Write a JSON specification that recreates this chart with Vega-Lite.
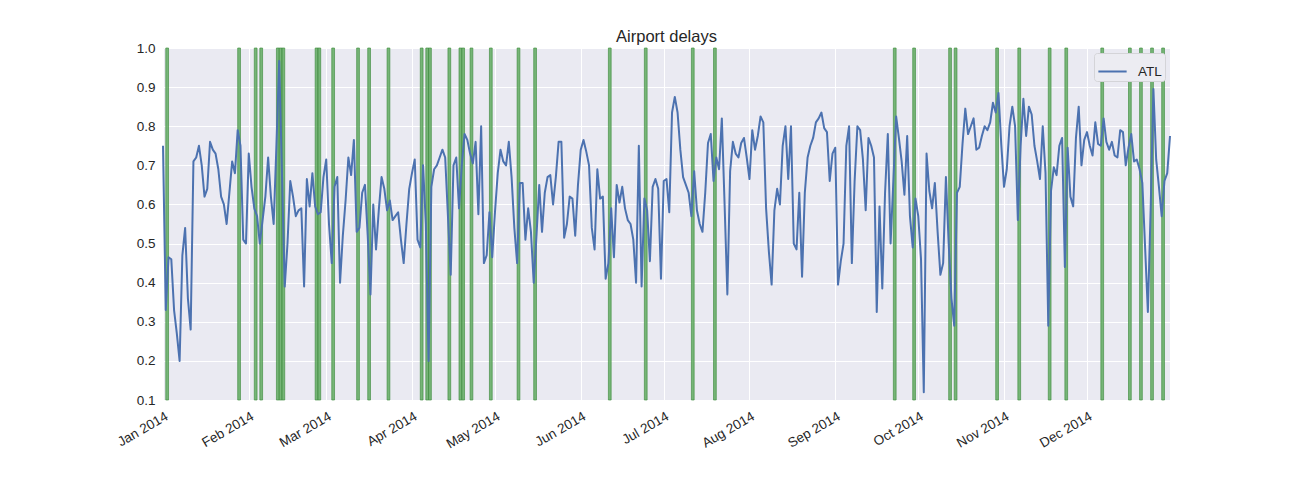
{
"$schema": "https://vega.github.io/schema/vega-lite/v6.json",
"width": 1007, "height": 352,
"autosize": {"type": "none"},
"padding": {"left": 163, "top": 48, "right": 130, "bottom": 100},
"background": "white",
"title": {"text": "Airport delays", "fontSize": 16.5, "fontWeight": "normal", "font": "Liberation Sans", "color": "#262626", "offset": -4, "frame": "group"},
"datasets": {
"spans": [
{"start":"2014-01-02","end":"2014-01-03"},{"start":"2014-01-28","end":"2014-01-29"},{"start":"2014-02-03","end":"2014-02-04"},{"start":"2014-02-05","end":"2014-02-06"},
{"start":"2014-02-11","end":"2014-02-12"},{"start":"2014-02-12","end":"2014-02-13"},{"start":"2014-02-13","end":"2014-02-14"},{"start":"2014-02-25","end":"2014-02-26"},
{"start":"2014-02-26","end":"2014-02-27"},{"start":"2014-03-03","end":"2014-03-04"},{"start":"2014-03-12","end":"2014-03-13"},{"start":"2014-03-16","end":"2014-03-17"},
{"start":"2014-03-23","end":"2014-03-24"},{"start":"2014-04-04","end":"2014-04-05"},{"start":"2014-04-06","end":"2014-04-07"},{"start":"2014-04-07","end":"2014-04-08"},
{"start":"2014-04-14","end":"2014-04-15"},{"start":"2014-04-18","end":"2014-04-19"},{"start":"2014-04-19","end":"2014-04-20"},{"start":"2014-04-22","end":"2014-04-23"},
{"start":"2014-04-29","end":"2014-04-30"},{"start":"2014-05-09","end":"2014-05-10"},{"start":"2014-05-15","end":"2014-05-16"},{"start":"2014-06-11","end":"2014-06-12"},
{"start":"2014-06-24","end":"2014-06-25"},{"start":"2014-07-11","end":"2014-07-12"},{"start":"2014-07-19","end":"2014-07-20"},{"start":"2014-09-22","end":"2014-09-23"},
{"start":"2014-09-29","end":"2014-09-30"},{"start":"2014-10-12","end":"2014-10-13"},{"start":"2014-10-14","end":"2014-10-15"},{"start":"2014-10-29","end":"2014-10-30"},
{"start":"2014-11-06","end":"2014-11-07"},{"start":"2014-11-17","end":"2014-11-18"},{"start":"2014-11-23","end":"2014-11-24"},{"start":"2014-12-06","end":"2014-12-07"},
{"start":"2014-12-16","end":"2014-12-17"},{"start":"2014-12-20","end":"2014-12-21"},{"start":"2014-12-24","end":"2014-12-25"},{"start":"2014-12-28","end":"2014-12-29"}
],
"delays": [
{"date":"2014-01-01","delay":0.75},{"date":"2014-01-02","delay":0.33},{"date":"2014-01-03","delay":0.465},{"date":"2014-01-04","delay":0.46},{"date":"2014-01-05","delay":0.33},{"date":"2014-01-06","delay":0.27},{"date":"2014-01-07","delay":0.20},{"date":"2014-01-08","delay":0.47},{"date":"2014-01-09","delay":0.54},{"date":"2014-01-10","delay":0.36},{"date":"2014-01-11","delay":0.28},{"date":"2014-01-12","delay":0.71},{"date":"2014-01-13","delay":0.72},{"date":"2014-01-14","delay":0.75},{"date":"2014-01-15","delay":0.70},{"date":"2014-01-16","delay":0.62},{"date":"2014-01-17","delay":0.64},{"date":"2014-01-18","delay":0.76},{"date":"2014-01-19","delay":0.74},{"date":"2014-01-20","delay":0.73},{"date":"2014-01-21","delay":0.69},{"date":"2014-01-22","delay":0.62},{"date":"2014-01-23","delay":0.60},{"date":"2014-01-24","delay":0.55},{"date":"2014-01-25","delay":0.63},{"date":"2014-01-26","delay":0.71},{"date":"2014-01-27","delay":0.68},{"date":"2014-01-28","delay":0.79},{"date":"2014-01-29","delay":0.75},{"date":"2014-01-30","delay":0.51},{"date":"2014-01-31","delay":0.50},
{"date":"2014-02-01","delay":0.73},{"date":"2014-02-02","delay":0.645},{"date":"2014-02-03","delay":0.59},{"date":"2014-02-04","delay":0.57},{"date":"2014-02-05","delay":0.50},{"date":"2014-02-06","delay":0.56},{"date":"2014-02-07","delay":0.62},{"date":"2014-02-08","delay":0.72},{"date":"2014-02-09","delay":0.62},{"date":"2014-02-10","delay":0.55},{"date":"2014-02-11","delay":0.75},{"date":"2014-02-12","delay":0.967},{"date":"2014-02-13","delay":0.68},{"date":"2014-02-14","delay":0.39},{"date":"2014-02-15","delay":0.50},{"date":"2014-02-16","delay":0.66},{"date":"2014-02-17","delay":0.62},{"date":"2014-02-18","delay":0.57},{"date":"2014-02-19","delay":0.585},{"date":"2014-02-20","delay":0.59},{"date":"2014-02-21","delay":0.39},{"date":"2014-02-22","delay":0.665},{"date":"2014-02-23","delay":0.595},{"date":"2014-02-24","delay":0.68},{"date":"2014-02-25","delay":0.595},{"date":"2014-02-26","delay":0.575},{"date":"2014-02-27","delay":0.58},{"date":"2014-02-28","delay":0.67},
{"date":"2014-03-01","delay":0.715},{"date":"2014-03-02","delay":0.55},{"date":"2014-03-03","delay":0.45},{"date":"2014-03-04","delay":0.645},{"date":"2014-03-05","delay":0.67},{"date":"2014-03-06","delay":0.40},{"date":"2014-03-07","delay":0.52},{"date":"2014-03-08","delay":0.61},{"date":"2014-03-09","delay":0.72},{"date":"2014-03-10","delay":0.675},{"date":"2014-03-11","delay":0.765},{"date":"2014-03-12","delay":0.53},{"date":"2014-03-13","delay":0.54},{"date":"2014-03-14","delay":0.63},{"date":"2014-03-15","delay":0.65},{"date":"2014-03-16","delay":0.52},{"date":"2014-03-17","delay":0.37},{"date":"2014-03-18","delay":0.60},{"date":"2014-03-19","delay":0.485},{"date":"2014-03-20","delay":0.585},{"date":"2014-03-21","delay":0.67},{"date":"2014-03-22","delay":0.64},{"date":"2014-03-23","delay":0.585},{"date":"2014-03-24","delay":0.61},{"date":"2014-03-25","delay":0.56},{"date":"2014-03-26","delay":0.57},{"date":"2014-03-27","delay":0.58},{"date":"2014-03-28","delay":0.51},{"date":"2014-03-29","delay":0.45},{"date":"2014-03-30","delay":0.55},{"date":"2014-03-31","delay":0.64},
{"date":"2014-04-01","delay":0.68},{"date":"2014-04-02","delay":0.715},{"date":"2014-04-03","delay":0.51},{"date":"2014-04-04","delay":0.49},{"date":"2014-04-05","delay":0.70},{"date":"2014-04-06","delay":0.55},{"date":"2014-04-07","delay":0.20},{"date":"2014-04-08","delay":0.645},{"date":"2014-04-09","delay":0.69},{"date":"2014-04-10","delay":0.70},{"date":"2014-04-11","delay":0.72},{"date":"2014-04-12","delay":0.74},{"date":"2014-04-13","delay":0.72},{"date":"2014-04-14","delay":0.57},{"date":"2014-04-15","delay":0.42},{"date":"2014-04-16","delay":0.70},{"date":"2014-04-17","delay":0.72},{"date":"2014-04-18","delay":0.59},{"date":"2014-04-19","delay":0.70},{"date":"2014-04-20","delay":0.78},{"date":"2014-04-21","delay":0.765},{"date":"2014-04-22","delay":0.73},{"date":"2014-04-23","delay":0.705},{"date":"2014-04-24","delay":0.76},{"date":"2014-04-25","delay":0.575},{"date":"2014-04-26","delay":0.80},{"date":"2014-04-27","delay":0.45},{"date":"2014-04-28","delay":0.47},{"date":"2014-04-29","delay":0.58},{"date":"2014-04-30","delay":0.465},
{"date":"2014-05-01","delay":0.58},{"date":"2014-05-02","delay":0.68},{"date":"2014-05-03","delay":0.74},{"date":"2014-05-04","delay":0.71},{"date":"2014-05-05","delay":0.70},{"date":"2014-05-06","delay":0.76},{"date":"2014-05-07","delay":0.67},{"date":"2014-05-08","delay":0.54},{"date":"2014-05-09","delay":0.45},{"date":"2014-05-10","delay":0.655},{"date":"2014-05-11","delay":0.655},{"date":"2014-05-12","delay":0.51},{"date":"2014-05-13","delay":0.59},{"date":"2014-05-14","delay":0.53},{"date":"2014-05-15","delay":0.40},{"date":"2014-05-16","delay":0.52},{"date":"2014-05-17","delay":0.65},{"date":"2014-05-18","delay":0.53},{"date":"2014-05-19","delay":0.63},{"date":"2014-05-20","delay":0.67},{"date":"2014-05-21","delay":0.675},{"date":"2014-05-22","delay":0.60},{"date":"2014-05-23","delay":0.67},{"date":"2014-05-24","delay":0.76},{"date":"2014-05-25","delay":0.76},{"date":"2014-05-26","delay":0.515},{"date":"2014-05-27","delay":0.55},{"date":"2014-05-28","delay":0.62},{"date":"2014-05-29","delay":0.615},{"date":"2014-05-30","delay":0.52},{"date":"2014-05-31","delay":0.65},
{"date":"2014-06-01","delay":0.74},{"date":"2014-06-02","delay":0.765},{"date":"2014-06-03","delay":0.735},{"date":"2014-06-04","delay":0.70},{"date":"2014-06-05","delay":0.54},{"date":"2014-06-06","delay":0.485},{"date":"2014-06-07","delay":0.69},{"date":"2014-06-08","delay":0.615},{"date":"2014-06-09","delay":0.62},{"date":"2014-06-10","delay":0.41},{"date":"2014-06-11","delay":0.45},{"date":"2014-06-12","delay":0.59},{"date":"2014-06-13","delay":0.465},{"date":"2014-06-14","delay":0.65},{"date":"2014-06-15","delay":0.605},{"date":"2014-06-16","delay":0.645},{"date":"2014-06-17","delay":0.59},{"date":"2014-06-18","delay":0.56},{"date":"2014-06-19","delay":0.55},{"date":"2014-06-20","delay":0.51},{"date":"2014-06-21","delay":0.40},{"date":"2014-06-22","delay":0.75},{"date":"2014-06-23","delay":0.39},{"date":"2014-06-24","delay":0.615},{"date":"2014-06-25","delay":0.585},{"date":"2014-06-26","delay":0.455},{"date":"2014-06-27","delay":0.645},{"date":"2014-06-28","delay":0.665},{"date":"2014-06-29","delay":0.64},{"date":"2014-06-30","delay":0.41},
{"date":"2014-07-01","delay":0.66},{"date":"2014-07-02","delay":0.665},{"date":"2014-07-03","delay":0.58},{"date":"2014-07-04","delay":0.835},{"date":"2014-07-05","delay":0.875},{"date":"2014-07-06","delay":0.835},{"date":"2014-07-07","delay":0.74},{"date":"2014-07-08","delay":0.67},{"date":"2014-07-09","delay":0.65},{"date":"2014-07-10","delay":0.63},{"date":"2014-07-11","delay":0.57},{"date":"2014-07-12","delay":0.685},{"date":"2014-07-13","delay":0.585},{"date":"2014-07-14","delay":0.55},{"date":"2014-07-15","delay":0.53},{"date":"2014-07-16","delay":0.63},{"date":"2014-07-17","delay":0.757},{"date":"2014-07-18","delay":0.78},{"date":"2014-07-19","delay":0.66},{"date":"2014-07-20","delay":0.72},{"date":"2014-07-21","delay":0.69},{"date":"2014-07-22","delay":0.82},{"date":"2014-07-23","delay":0.60},{"date":"2014-07-24","delay":0.37},{"date":"2014-07-25","delay":0.685},{"date":"2014-07-26","delay":0.76},{"date":"2014-07-27","delay":0.73},{"date":"2014-07-28","delay":0.72},{"date":"2014-07-29","delay":0.757},{"date":"2014-07-30","delay":0.77},{"date":"2014-07-31","delay":0.72},
{"date":"2014-08-01","delay":0.665},{"date":"2014-08-02","delay":0.79},{"date":"2014-08-03","delay":0.74},{"date":"2014-08-04","delay":0.775},{"date":"2014-08-05","delay":0.825},{"date":"2014-08-06","delay":0.81},{"date":"2014-08-07","delay":0.59},{"date":"2014-08-08","delay":0.48},{"date":"2014-08-09","delay":0.395},{"date":"2014-08-10","delay":0.585},{"date":"2014-08-11","delay":0.64},{"date":"2014-08-12","delay":0.60},{"date":"2014-08-13","delay":0.75},{"date":"2014-08-14","delay":0.80},{"date":"2014-08-15","delay":0.665},{"date":"2014-08-16","delay":0.80},{"date":"2014-08-17","delay":0.50},{"date":"2014-08-18","delay":0.485},{"date":"2014-08-19","delay":0.63},{"date":"2014-08-20","delay":0.415},{"date":"2014-08-21","delay":0.63},{"date":"2014-08-22","delay":0.72},{"date":"2014-08-23","delay":0.75},{"date":"2014-08-24","delay":0.77},{"date":"2014-08-25","delay":0.81},{"date":"2014-08-26","delay":0.82},{"date":"2014-08-27","delay":0.835},{"date":"2014-08-28","delay":0.795},{"date":"2014-08-29","delay":0.785},{"date":"2014-08-30","delay":0.66},{"date":"2014-08-31","delay":0.73},
{"date":"2014-09-01","delay":0.745},{"date":"2014-09-02","delay":0.395},{"date":"2014-09-03","delay":0.455},{"date":"2014-09-04","delay":0.50},{"date":"2014-09-05","delay":0.75},{"date":"2014-09-06","delay":0.80},{"date":"2014-09-07","delay":0.45},{"date":"2014-09-08","delay":0.66},{"date":"2014-09-09","delay":0.80},{"date":"2014-09-10","delay":0.79},{"date":"2014-09-11","delay":0.715},{"date":"2014-09-12","delay":0.585},{"date":"2014-09-13","delay":0.77},{"date":"2014-09-14","delay":0.75},{"date":"2014-09-15","delay":0.72},{"date":"2014-09-16","delay":0.325},{"date":"2014-09-17","delay":0.595},{"date":"2014-09-18","delay":0.385},{"date":"2014-09-19","delay":0.63},{"date":"2014-09-20","delay":0.78},{"date":"2014-09-21","delay":0.50},{"date":"2014-09-22","delay":0.66},{"date":"2014-09-23","delay":0.825},{"date":"2014-09-24","delay":0.77},{"date":"2014-09-25","delay":0.71},{"date":"2014-09-26","delay":0.625},{"date":"2014-09-27","delay":0.775},{"date":"2014-09-28","delay":0.57},{"date":"2014-09-29","delay":0.49},{"date":"2014-09-30","delay":0.615},
{"date":"2014-10-01","delay":0.57},{"date":"2014-10-02","delay":0.46},{"date":"2014-10-03","delay":0.12},{"date":"2014-10-04","delay":0.73},{"date":"2014-10-05","delay":0.635},{"date":"2014-10-06","delay":0.59},{"date":"2014-10-07","delay":0.655},{"date":"2014-10-08","delay":0.53},{"date":"2014-10-09","delay":0.42},{"date":"2014-10-10","delay":0.45},{"date":"2014-10-11","delay":0.67},{"date":"2014-10-12","delay":0.50},{"date":"2014-10-13","delay":0.36},{"date":"2014-10-14","delay":0.29},{"date":"2014-10-15","delay":0.63},{"date":"2014-10-16","delay":0.645},{"date":"2014-10-17","delay":0.755},{"date":"2014-10-18","delay":0.845},{"date":"2014-10-19","delay":0.78},{"date":"2014-10-20","delay":0.80},{"date":"2014-10-21","delay":0.82},{"date":"2014-10-22","delay":0.74},{"date":"2014-10-23","delay":0.745},{"date":"2014-10-24","delay":0.775},{"date":"2014-10-25","delay":0.80},{"date":"2014-10-26","delay":0.79},{"date":"2014-10-27","delay":0.81},{"date":"2014-10-28","delay":0.86},{"date":"2014-10-29","delay":0.835},{"date":"2014-10-30","delay":0.885},{"date":"2014-10-31","delay":0.755},
{"date":"2014-11-01","delay":0.645},{"date":"2014-11-02","delay":0.69},{"date":"2014-11-03","delay":0.80},{"date":"2014-11-04","delay":0.85},{"date":"2014-11-05","delay":0.80},{"date":"2014-11-06","delay":0.56},{"date":"2014-11-07","delay":0.75},{"date":"2014-11-08","delay":0.87},{"date":"2014-11-09","delay":0.775},{"date":"2014-11-10","delay":0.85},{"date":"2014-11-11","delay":0.83},{"date":"2014-11-12","delay":0.75},{"date":"2014-11-13","delay":0.71},{"date":"2014-11-14","delay":0.665},{"date":"2014-11-15","delay":0.80},{"date":"2014-11-16","delay":0.68},{"date":"2014-11-17","delay":0.29},{"date":"2014-11-18","delay":0.635},{"date":"2014-11-19","delay":0.695},{"date":"2014-11-20","delay":0.675},{"date":"2014-11-21","delay":0.75},{"date":"2014-11-22","delay":0.77},{"date":"2014-11-23","delay":0.44},{"date":"2014-11-24","delay":0.745},{"date":"2014-11-25","delay":0.62},{"date":"2014-11-26","delay":0.595},{"date":"2014-11-27","delay":0.77},{"date":"2014-11-28","delay":0.85},{"date":"2014-11-29","delay":0.70},{"date":"2014-11-30","delay":0.765},
{"date":"2014-12-01","delay":0.785},{"date":"2014-12-02","delay":0.75},{"date":"2014-12-03","delay":0.725},{"date":"2014-12-04","delay":0.81},{"date":"2014-12-05","delay":0.755},{"date":"2014-12-06","delay":0.75},{"date":"2014-12-07","delay":0.82},{"date":"2014-12-08","delay":0.76},{"date":"2014-12-09","delay":0.74},{"date":"2014-12-10","delay":0.76},{"date":"2014-12-11","delay":0.725},{"date":"2014-12-12","delay":0.72},{"date":"2014-12-13","delay":0.79},{"date":"2014-12-14","delay":0.785},{"date":"2014-12-15","delay":0.70},{"date":"2014-12-16","delay":0.745},{"date":"2014-12-17","delay":0.78},{"date":"2014-12-18","delay":0.71},{"date":"2014-12-19","delay":0.715},{"date":"2014-12-20","delay":0.69},{"date":"2014-12-21","delay":0.655},{"date":"2014-12-22","delay":0.49},{"date":"2014-12-23","delay":0.325},{"date":"2014-12-24","delay":0.585},{"date":"2014-12-25","delay":0.895},{"date":"2014-12-26","delay":0.715},{"date":"2014-12-27","delay":0.645},{"date":"2014-12-28","delay":0.57},{"date":"2014-12-29","delay":0.66},{"date":"2014-12-30","delay":0.68},{"date":"2014-12-31","delay":0.775}
]
},
"layer": [
{
"data": {"name": "spans"},
"mark": {"type": "rect", "fill": "#62ab62", "fillOpacity": 0.85, "stroke": "#3d8a3d", "strokeWidth": 0.8, "strokeOpacity": 0.8},
"encoding": {
"x": {"field": "start", "type": "temporal"},
"x2": {"field": "end"}
}
},
{
"data": {"name": "delays"},
"mark": {"type": "line", "strokeWidth": 2, "strokeJoin": "round"},
"encoding": {
"x": {"field": "date", "type": "temporal",
"scale": {"type": "utc", "nice": false, "domain": [{"year": 2014, "month": 1, "date": 1, "utc": true}, {"year": 2014, "month": 12, "date": 31, "utc": true}]},
"axis": {"title": null, "format": "%b %Y", "tickCount": {"interval": "month", "step": 1}, "labelAngle": -30, "labelAlign": "right", "labelBaseline": "top", "labelPadding": 9, "labelDx": -6, "labelOverlap": false, "labelFlush": false}},
"y": {"field": "delay", "type": "quantitative",
"scale": {"domain": [0.1, 1.0], "nice": false, "zero": false},
"axis": {"title": null, "values": [0.1, 0.2, 0.3, 0.4, 0.5, 0.6, 0.7, 0.8, 0.9, 1.0], "format": ".1f", "labelPadding": 8}},
"color": {"datum": "ATL", "type": "nominal", "scale": {"range": ["#4c72b0"]},
"legend": {"title": null, "orient": "top-right", "offset": 5, "symbolType": "stroke", "symbolStrokeWidth": 2, "symbolSize": 800, "labelFontSize": 13.5, "labelFont": "Liberation Sans", "labelColor": "#262626", "labelOffset": 10, "fillColor": "#ececf2", "strokeColor": "#d4d4d8", "padding": 3, "cornerRadius": 3}}
}
}
],
"config": {
"view": {"fill": "#eaeaf2", "stroke": null},
"axis": {"domain": false, "ticks": false, "grid": true, "gridColor": "#ffffff", "gridWidth": 1, "gridOpacity": 1, "labelFont": "Liberation Sans", "labelFontSize": 13.5, "labelColor": "#262626"}
}
}
